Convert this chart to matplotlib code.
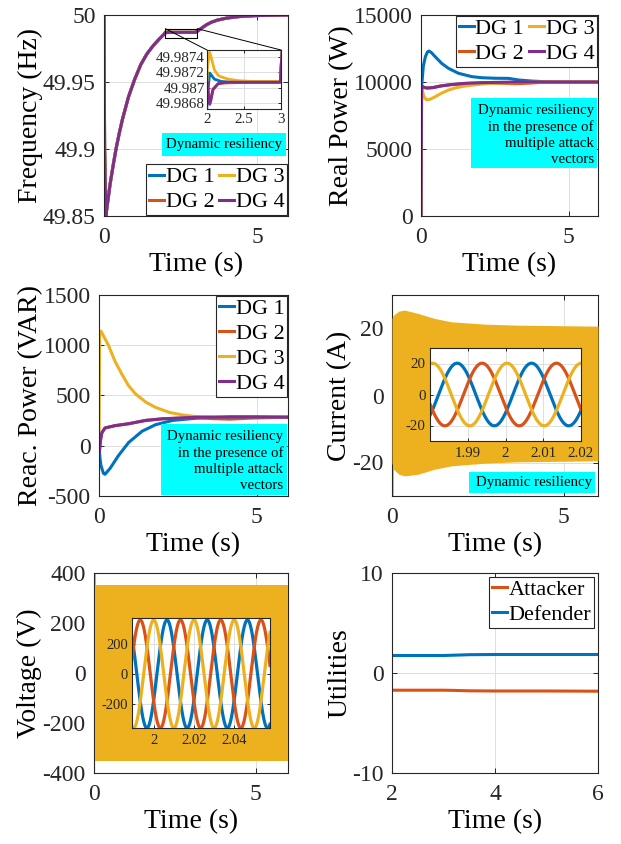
import numpy as np
import matplotlib
matplotlib.use('Agg')
import matplotlib.pyplot as plt
from matplotlib.patches import Rectangle, ConnectionPatch

plt.rcParams['font.family'] = ['Liberation Serif', 'DejaVu Serif']
plt.rcParams['axes.unicode_minus'] = False

C_BLUE = '#0072BD'
C_RED = '#D95319'
C_YEL = '#EDB120'
C_PUR = '#7E2F8E'
FRAME = '#262626'
CYAN = '#00FFFF'
DG_COLORS = [C_BLUE, C_RED, C_YEL, C_PUR]
DG_LABELS = ['DG 1', 'DG 2', 'DG 3', 'DG 4']

# ---------------- Frequency (Hz) ----------------
t_f_head = [0.0, 0.02, 0.06, 0.1, 0.2, 0.3, 0.4, 0.5, 0.6, 0.8, 1.0, 1.2, 1.4, 1.6, 1.8, 1.95]
f_head = [50.0, 49.90, 49.850, 49.857, 49.874, 49.888, 49.901, 49.912, 49.922, 49.939,
          49.952, 49.963, 49.971, 49.977, 49.982, 49.9855]
t_f_tail = [3.0, 3.1, 3.2, 3.35, 3.5, 3.7, 4.0, 4.4, 5.0, 6.0]
f_tail = [49.98725, 49.9888, 49.9905, 49.9928, 49.9946, 49.9962, 49.9977, 49.9988, 49.9996, 50.0]
# DG-specific segments between 2 s and 3 s (zoomed inset)
t_f_dg1 = [2.0, 2.01, 2.036, 2.06, 2.1, 2.19, 2.3, 2.6, 2.99]
f_dg1 = [49.98678, 49.98692, 49.98719, 49.98716, 49.98711, 49.98708, 49.98707, 49.98707, 49.98707]
t_f_dg2 = [2.0, 2.02, 2.036, 2.05, 2.08, 2.15, 2.25, 2.6, 2.99]
f_dg2 = [49.98706, 49.98692, 49.98680, 49.98684, 49.98698, 49.98705, 49.98706, 49.98707, 49.98707]
t_f_dg3 = [2.0, 2.005, 2.036, 2.06, 2.1, 2.15, 2.19, 2.285, 2.42, 2.6, 2.99]
f_dg3 = [49.98705, 49.98725, 49.98746, 49.98738, 49.98723, 49.98716, 49.98714, 49.98711,
         49.98709, 49.98708, 49.98708]
t_f_dg4 = [2.0, 2.02, 2.036, 2.05, 2.08, 2.15, 2.25, 2.6, 2.99]
f_dg4 = [49.98708, 49.98690, 49.98678, 49.98682, 49.98697, 49.98705, 49.98707, 49.98707, 49.98707]
freq_yticks = [49.85, 49.9, 49.95, 50]
freq_yticklabels = ['49.85', '49.9', '49.95', '50']
ins_f_yticks = [49.9868, 49.987, 49.9872, 49.9874]
ins_f_yticklabels = ['49.9868', '49.987', '49.9872', '49.9874']

# ---------------- Real power (W) ----------------
t_p1 = [0, 0.02, 0.08, 0.15, 0.22, 0.27, 0.35, 0.48, 0.7, 0.93, 1.27, 1.72, 2.06, 2.5, 2.97, 3.31, 3.76, 4.3, 5, 6]
p1 = [0, 9650, 11200, 11900, 12250, 12310, 12200, 11890, 11390, 11020, 10650, 10400, 10320,
      10280, 10270, 10150, 10070, 10010, 10000, 10000]
t_p2 = [0, 0.02, 0.1, 0.2, 0.4, 0.66, 1.0, 1.5, 2.06, 2.7, 3.2, 3.7, 4.2, 6]
p2 = [0, 9700, 9600, 9550, 9580, 9700, 9800, 9890, 9930, 9900, 9870, 9920, 9990, 10000]
t_p3 = [0, 0.02, 0.1, 0.19, 0.3, 0.48, 0.7, 0.93, 1.2, 1.5, 2.06, 2.6, 3.2, 4, 6]
p3 = [0, 9600, 8900, 8660, 8700, 8900, 9170, 9400, 9580, 9700, 9850, 9920, 9950, 10000, 10000]
t_p4 = [0, 0.02, 0.1, 0.2, 0.4, 0.66, 1.0, 1.5, 2.06, 3, 4, 6]
p4 = [0, 9700, 9600, 9550, 9580, 9700, 9800, 9900, 9950, 9990, 10000, 10000]

# ---------------- Reactive power (VAR) ----------------
t_q1 = [0, 0.03, 0.06, 0.14, 0.19, 0.35, 0.62, 0.94, 1.37, 1.8, 2.34, 3.09, 4.16, 5.0, 6.0]
q1 = [0, -120, -194, -274, -284, -226, -97, 32, 145, 210, 252, 274, 290, 290, 284]
t_q2 = [0, 0.01, 0.05, 0.09, 0.19, 0.51, 0.94, 1.48, 2.01, 3.09, 3.6, 4.16, 4.8, 6.0]
q2 = [0, -65, 60, 129, 177, 200, 219, 252, 268, 280, 270, 265, 275, 284]
t_q3 = [0, 0.02, 0.04, 0.065, 0.19, 0.30, 0.51, 0.73, 0.94, 1.16, 1.48, 1.80, 2.23, 2.66, 3.09, 4.16, 6.0]
q3 = [0, 1100, 1135, 1140, 1065, 1000, 839, 710, 597, 516, 435, 381, 332, 306, 290, 284, 284]
t_q4 = [0, 0.01, 0.05, 0.09, 0.19, 0.51, 0.94, 1.48, 2.01, 3.09, 6.0]
q4 = [0, -65, 60, 129, 177, 200, 219, 252, 268, 284, 284]

# ---------------- Current (A) ----------------
t_i_env = [0.0, 0.04, 0.2, 0.37, 0.76, 1.24, 1.73, 2.7, 3.66, 6.0]
i_env_up = [23.0, 24.0, 25.2, 25.5, 24.5, 23.0, 22.0, 21.3, 21.0, 20.7]
i_env_lo = [-20.0, -22.0, -23.5, -24.0, -23.5, -22.0, -21.0, -20.2, -19.8, -19.5]
t_i_spike = [0.0, 0.005, 0.01]
i_spike = [0.0, -35.0, -20.0]
i_amp = 20.2                      # A, steady-state phase amplitude (inset)
i_period = 0.0197                 # s
i_peak_times = [1.9872, 1.9938, 2.0004]   # blue, red, yellow

# ---------------- Voltage (V) ----------------
t_v_env = [0.02, 1.0, 3.0, 6.0]
v_env_up = [352, 352, 352, 352]
v_env_lo = [-352, -352, -352, -352]
t_v_spike_y = [0.02, 0.02]
v_spike_y = [0, 400]
t_v_spike_r = [0.005, 0.005]
v_spike_r = [0, -400]
v_amp = 358
v_period = 0.02
v_peak_times = [2.0067, 1.9934, 2.0001]   # blue, red, yellow

# ---------------- Utilities ----------------
t_u = [2, 3, 3.2, 3.5, 4, 5, 6]
u_att = [-1.72, -1.72, -1.74, -1.78, -1.80, -1.80, -1.82]
u_def = [1.75, 1.75, 1.78, 1.83, 1.85, 1.85, 1.85]

# =======================================================
fig = plt.figure(figsize=(6.21, 8.44), dpi=100)
W, H = 621.0, 844.0


def px_axes(l, t, r, b):
    return fig.add_axes([l / W, 1 - b / H, (r - l) / W, (b - t) / H])


def style(ax, fs=17, length=3.5, xpad=8, ypad=6):
    ax.tick_params(direction='in', length=length, width=0.7, labelsize=fs,
                   colors=FRAME, top=True, right=True)
    ax.tick_params(axis='x', pad=xpad)
    ax.tick_params(axis='y', pad=ypad)
    for s in ax.spines.values():
        s.set_color(FRAME)
        s.set_linewidth(0.8)
    ax.grid(True, color='#dedede', lw=0.7)
    ax.set_axisbelow(True)


def legend(ax, handles, labels, **kw):
    leg = ax.legend(handles, labels, fontsize=16, handlelength=0.7, handletextpad=0.06,
                    borderpad=0.12, labelspacing=0.2, columnspacing=0.2, frameon=True,
                    fancybox=False, framealpha=1, edgecolor=FRAME, borderaxespad=0, **kw)
    leg.get_frame().set_linewidth(0.8)
    leg.set_zorder(10)
    return leg


def cyan_box(ax, x0, y0, x1, y1, text, tx, ty, ha):
    ax.add_patch(Rectangle((x0, y0), x1 - x0, y1 - y0, transform=ax.transAxes,
                           facecolor=CYAN, edgecolor='none', zorder=8))
    ax.text(tx, ty, text, transform=ax.transAxes, ha=ha, va='center', fontsize=10.7,
            linespacing=1.3, zorder=9, color='black')


def labels(ax, ylab):
    ax.set_xlabel('Time (s)', fontsize=20, labelpad=3)
    ax.set_ylabel(ylab, fontsize=20, labelpad=0)


LW = 2.2

# ---- Panel 1: Frequency ----
ax1 = px_axes(104, 15, 288, 216)
style(ax1)
freq_t = [t_f_head + a + t_f_tail for a in (t_f_dg1, t_f_dg2, t_f_dg3, t_f_dg4)]
freq_v = [f_head + b + f_tail for b in (f_dg1, f_dg2, f_dg3, f_dg4)]
lines = []
for tt, vv, c in zip(freq_t, freq_v, DG_COLORS):
    l, = ax1.plot(tt, vv, color=c, lw=LW)
    lines.append(l)
ax1.set_xlim(0, 6)
ax1.set_ylim(49.85, 50)
ax1.set_xticks([0, 5])
ax1.set_yticks(freq_yticks)
ax1.set_yticklabels(freq_yticklabels)
labels(ax1, 'Frequency (Hz)')
legend(ax1, lines, DG_LABELS, loc='lower right', bbox_to_anchor=(0.995, 0.005), ncol=2)
cyan_box(ax1, 0.315, 0.2985, 0.989, 0.413, 'Dynamic resiliency', 0.652, 0.356, 'center')
ax1.add_patch(Rectangle((2.0, 49.9826), 1.04, 0.0072, facecolor='none', edgecolor='black',
                        lw=0.8, zorder=6))

axi1 = px_axes(207, 50, 281, 109)
style(axi1, fs=10.8, length=2.5, xpad=3, ypad=1.5)
for tt, vv, c in zip(freq_t, freq_v, DG_COLORS):
    axi1.plot(tt, vv, color=c, lw=2.0)
axi1.set_xlim(2, 3)
axi1.set_ylim(49.98672, 49.98749)
axi1.set_xticks([2, 2.5, 3])
axi1.set_xticklabels(['2', '2.5', '3'])
axi1.set_yticks(ins_f_yticks)
axi1.set_yticklabels(ins_f_yticklabels)
for xA, xB in [(2.0, 0.0), (3.04, 1.0)]:
    con = ConnectionPatch(xyA=(xA, 49.9898), coordsA=ax1.transData,
                          xyB=(xB, 1.0), coordsB=axi1.transAxes, color='black', lw=0.7)
    fig.add_artist(con)

# ---- Panel 2: Real power ----
ax2 = px_axes(421, 15, 598, 216)
style(ax2)
lines = []
for tt, vv, c in zip((t_p1, t_p2, t_p3, t_p4), (p1, p2, p3, p4), DG_COLORS):
    l, = ax2.plot(tt, vv, color=c, lw=LW)
    lines.append(l)
ax2.set_xlim(0, 6)
ax2.set_ylim(0, 15000)
ax2.set_xticks([0, 5])
ax2.set_yticks([0, 5000, 10000, 15000])
labels(ax2, 'Real Power (W)')
legend(ax2, lines, DG_LABELS, loc='upper right', bbox_to_anchor=(0.994, 0.995), ncol=2)
cyan_box(ax2, 0.2825, 0.239, 0.994, 0.587,
         'Dynamic resiliency\nin the presence of\nmultiple attack\nvectors', 0.977, 0.405, 'right')

# ---- Panel 3: Reactive power ----
ax3 = px_axes(99, 295, 288, 496)
style(ax3)
lines = []
for tt, vv, c in zip((t_q1, t_q2, t_q3, t_q4), (q1, q2, q3, q4), DG_COLORS):
    l, = ax3.plot(tt, vv, color=c, lw=LW)
    lines.append(l)
ax3.set_xlim(0, 6)
ax3.set_ylim(-500, 1500)
ax3.set_xticks([0, 5])
ax3.set_yticks([-500, 0, 500, 1000, 1500])
labels(ax3, 'Reac. Power (VAR)')
legend(ax3, lines, DG_LABELS, loc='upper right', bbox_to_anchor=(0.995, 0.995), ncol=1)
cyan_box(ax3, 0.328, 0.005, 0.995, 0.358,
         'Dynamic resiliency\nin the presence of\nmultiple attack\nvectors', 0.974, 0.176, 'right')

# ---- Panel 4: Current ----
ax4 = px_axes(392, 295, 598, 496)
style(ax4)
ax4.plot(t_i_spike, i_spike, color=C_RED, lw=1.5, zorder=2)
ax4.fill_between(t_i_env, i_env_lo, i_env_up, color=C_YEL, lw=0, zorder=3)
ax4.set_xlim(0, 6)
ax4.set_ylim(-30, 30)
ax4.set_xticks([0, 5])
ax4.set_yticks([-20, 0, 20])
labels(ax4, 'Current (A)')
cyan_box(ax4, 0.374, 0.015, 0.985, 0.119, 'Dynamic resiliency', 0.688, 0.068, 'center')

axi4 = px_axes(430, 348, 581, 441)
style(axi4, fs=10.7, length=2.5, xpad=4, ypad=3)
ti = np.linspace(1.98, 2.02, 600)
for tp, c in zip(i_peak_times, [C_BLUE, C_RED, C_YEL]):
    axi4.plot(ti, i_amp * np.cos(2 * np.pi * (ti - tp) / i_period), color=c, lw=2.3)
axi4.set_xlim(1.98, 2.02)
axi4.set_ylim(-30, 30)
axi4.set_xticks([1.99, 2.0, 2.01, 2.02])
axi4.set_xticklabels(['1.99', '2', '2.01', '2.02'])
axi4.set_yticks([-20, 0, 20])

# ---- Panel 5: Voltage ----
ax5 = px_axes(94, 573, 288, 773)
style(ax5)
ax5.plot(t_v_spike_r, v_spike_r, color=C_RED, lw=1.5, zorder=2)
ax5.plot(t_v_spike_y, v_spike_y, color=C_YEL, lw=1.5, zorder=2)
ax5.fill_between(t_v_env, v_env_lo, v_env_up, color=C_YEL, lw=0, zorder=3)
ax5.set_xlim(0, 6)
ax5.set_ylim(-400, 400)
ax5.set_xticks([0, 5])
ax5.set_yticks([-400, -200, 0, 200, 400])
labels(ax5, 'Voltage (V)')

axi5 = px_axes(132, 618, 270, 728)
style(axi5, fs=10.5, length=2.5, xpad=4, ypad=3)
tv = np.linspace(1.9893, 2.0579, 1200)
for tp, c in zip(v_peak_times, [C_BLUE, C_RED, C_YEL]):
    axi5.plot(tv, v_amp * np.cos(2 * np.pi * (tv - tp) / v_period), color=c, lw=2.3)
axi5.set_xlim(1.9893, 2.0579)
axi5.set_ylim(-358, 371)
axi5.set_xticks([2.0, 2.02, 2.04])
axi5.set_xticklabels(['2', '2.02', '2.04'])
axi5.set_yticks([-200, 0, 200])

# ---- Panel 6: Utilities ----
ax6 = px_axes(392, 573, 598, 773)
style(ax6)
la, = ax6.plot(t_u, u_att, color=C_RED, lw=LW)
ld, = ax6.plot(t_u, u_def, color=C_BLUE, lw=LW)
ax6.set_xlim(2, 6)
ax6.set_ylim(-10, 10)
ax6.set_xticks([2, 4, 6])
ax6.set_yticks([-10, 0, 10])
labels(ax6, 'Utilities')
legend(ax6, [la, ld], ['Attacker', 'Defender'], loc='upper right', bbox_to_anchor=(0.981, 0.98))

fig.savefig('out.png', dpi=100)
